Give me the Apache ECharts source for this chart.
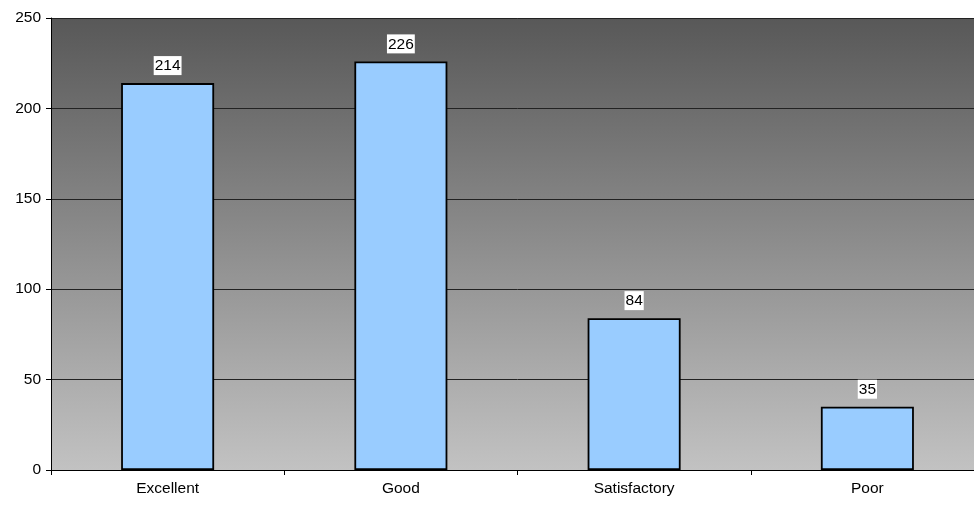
<!DOCTYPE html>
<html><head><meta charset="utf-8">
<script src="https://cdn.jsdelivr.net/npm/echarts@6/dist/echarts.min.js"></script>
<style>html,body{margin:0;padding:0;background:#fff;overflow:hidden;width:974px;height:505px}#c{width:984px;height:505px}</style>
</head><body><div id="c"></div>
<script>
var categories = ["Excellent", "Good", "Satisfactory", "Poor"];
var values = [214, 226, 84, 35];
var yTicks = [0, 50, 100, 150, 200, 250];

var chart = echarts.init(document.getElementById('c'), null, {renderer: 'canvas'});
chart.setOption({
  animation: false,
  backgroundColor: '#fff',
  grid: {
    left: 51, right: 0, top: 18, bottom: 35,
    show: true,
    borderWidth: 0,
    backgroundColor: new echarts.graphic.LinearGradient(0, 0, 0, 1, [
      {offset: 0, color: '#585858'},
      {offset: 1, color: '#c2c2c2'}
    ])
  },
  xAxis: {
    type: 'category',
    data: categories,
    axisLine: {lineStyle: {color: '#000', width: 1}},
    axisTick: {show: true, length: 5, lineStyle: {color: '#000'}},
    axisLabel: {color: '#000', fontFamily: 'Liberation Sans, Arial', fontSize: 15.5, margin: 11},
    splitLine: {show: false}
  },
  yAxis: {
    type: 'value',
    min: yTicks[0], max: yTicks[yTicks.length - 1], interval: 50,
    axisLine: {show: true, lineStyle: {color: '#000', width: 1}},
    axisTick: {show: true, length: 5, lineStyle: {color: '#000'}},
    axisLabel: {color: '#000', fontFamily: 'Liberation Sans, Arial', fontSize: 15.5, margin: 10},
    splitLine: {show: true, lineStyle: {color: '#222', width: 1}}
  },
  series: [{
    type: 'bar',
    data: values,
    barWidth: 93,
    itemStyle: {color: '#99ccff', borderColor: '#000', borderWidth: 1.8},
    label: {
      show: true,
      position: 'top',
      distance: 8,
      color: '#000',
      fontFamily: 'Liberation Sans, Arial',
      fontSize: 15.5,
      backgroundColor: '#fff',
      padding: [2, 1, 1, 1]
    }
  }]
});
</script></body></html>
